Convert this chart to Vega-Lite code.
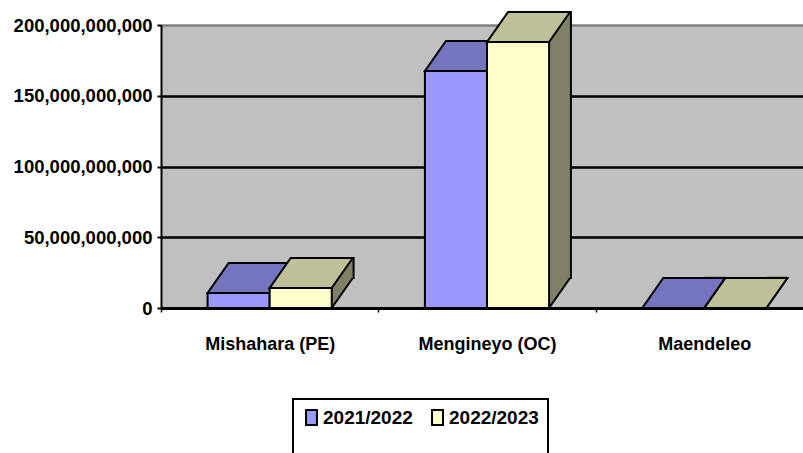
{
  "$schema": "https://vega.github.io/schema/vega-lite/v6.json",
  "autosize": {"type": "none"},
  "width": 642,
  "height": 283,
  "padding": {"left": 161, "top": 25, "right": 0, "bottom": 145},
  "background": "white",
  "config": {
    "view": {"stroke": null, "fill": "#C0C0C0"},
    "font": "Liberation Sans",
    "legend": {"strokeWidth": 2}
  },
  "data": {
    "values": [
      {"category": "Mishahara (PE)", "series": "2021/2022", "value": 10600000000},
      {"category": "Mishahara (PE)", "series": "2022/2023", "value": 14100000000},
      {"category": "Mengineyo (OC)", "series": "2021/2022", "value": 167500000000},
      {"category": "Mengineyo (OC)", "series": "2022/2023", "value": 188000000000},
      {"category": "Maendeleo", "series": "2021/2022", "value": 0},
      {"category": "Maendeleo", "series": "2022/2023", "value": 0}
    ]
  },
  "resolve": {"scale": {"xOffset": "independent"}},
  "encoding": {
    "x": {
      "field": "category",
      "type": "nominal",
      "sort": ["Mishahara (PE)", "Mengineyo (OC)", "Maendeleo"],
      "scale": {"type": "band", "range": [0, 652], "paddingInner": 0, "paddingOuter": 0},
      "axis": {
        "title": null,
        "labelAngle": 0,
        "labelFont": "Liberation Sans",
        "labelFontSize": 18,
        "labelFontWeight": "bold",
        "labelColor": "black",
        "labelBaseline": "alphabetic",
        "labelPadding": 37,
        "tickBand": "extent",
        "tickSize": 4,
        "tickColor": "black",
        "tickWidth": 1.5,
        "domainColor": "black",
        "domainWidth": 3,
        "zindex": 1
      }
    },
    "xOffset": {
      "field": "series",
      "type": "nominal",
      "scale": {"type": "band", "domain": ["2021/2022", "2022/2023"], "paddingInner": 0, "paddingOuter": 0.75}
    },
    "y": {
      "field": "value",
      "type": "quantitative",
      "scale": {"domain": [0, 200000000000], "nice": false},
      "axis": {
        "title": null,
        "values": [0, 50000000000, 100000000000, 150000000000, 200000000000],
        "format": ",d",
        "labelFont": "Liberation Sans",
        "labelFontSize": 18.5,
        "labelFontWeight": "bold",
        "labelColor": "black",
        "labelPadding": 5,
        "tickSize": 4,
        "tickColor": "black",
        "tickWidth": 2,
        "domainColor": "black",
        "domainWidth": 2,
        "grid": true,
        "gridColor": {"condition": {"test": "datum.value >= 200000000000", "value": "#808080"}, "value": "black"},
        "gridWidth": 2.5
      }
    }
  },
  "layer": [
    {
      "mark": {"type": "bar", "yOffset": -30, "y2Offset": -30, "fill": "#808066", "stroke": "black", "strokeWidth": 2},
      "encoding": {
        "xOffset": {
          "field": "series",
          "type": "nominal",
          "scale": {"type": "band", "domain": ["2021/2022", "2022/2023"], "paddingInner": 0.662, "paddingOuter": 1.081, "align": 0.81}
        },
        "y2": {"datum": 0}
      }
    },
    {
      "mark": {"type": "point", "shape": "M31,0 L31,-31.5 L52,-31.5 L52,-30 Z", "size": 4, "filled": true, "fill": "#808066", "strokeWidth": 0, "opacity": 1},
      "encoding": {"y": {"datum": 0, "type": "quantitative"}}
    },
    {
      "mark": {"type": "point", "shape": "M31,0 L52,-30", "size": 4, "filled": false, "stroke": "black", "strokeWidth": 2, "opacity": 1},
      "encoding": {"y": {"datum": 0, "type": "quantitative"}}
    },
    {
      "transform": [{"filter": "datum.series == '2021/2022'"}],
      "mark": {"type": "bar", "stroke": "black", "strokeWidth": 2},
      "encoding": {
        "fill": {
          "field": "series",
          "type": "nominal",
          "scale": {"domain": ["2021/2022", "2022/2023"], "range": ["#9999FF", "#FFFFCC"]},
          "legend": {
            "orient": "none",
            "legendX": 132,
            "legendY": 374,
            "direction": "horizontal",
            "title": "\u00a0\u00a0\u00a0\u00a0\u00a0\u00a0\u00a0\u00a0\u00a0\u00a0\u00a0\u00a0\u00a0\u00a0\u00a0\u00a0\u00a0\u00a0\u00a0\u00a0\u00a0\u00a0\u00a0\u00a0\u00a0\u00a0\u00a0\u00a0\u00a0\u00a0\u00a0\u00a0\u00a0\u00a0\u00a0\u00a0\u00a0\u00a0\u00a0",
            "titleOrient": "bottom",
            "titleFontSize": 22,
            "titleLimit": 400,
            "titlePadding": 0,
            "strokeColor": "black",
            "padding": 9,
            "labelFont": "Liberation Sans",
            "labelFontSize": 19,
            "labelFontWeight": "bold",
            "labelColor": "black",
            "labelOffset": 2,
            "columnPadding": 15,
            "symbolType": "M-0.73,-1 L0.73,-1 L0.73,1 L-0.73,1 Z",
            "symbolSize": 225,
            "symbolStrokeColor": "black",
            "symbolStrokeWidth": 2,
            "symbolOpacity": 1,
            "encode": {
              "symbols": {
                "update": {
                  "shape": {"value": "M-0.73,-1 L0.73,-1 L0.73,1 L-0.73,1 Z"},
                  "size": {"value": 225},
                  "stroke": {"value": "black"},
                  "strokeWidth": {"value": 2},
                  "opacity": {"value": 1}
                }
              }
            }
          }
        }
      }
    },
    {
      "transform": [{"filter": "datum.series == '2021/2022'"}],
      "mark": {"type": "point", "shape": "M-31,0 L31,0 L52,-30 L-10,-30 Z", "size": 4, "filled": true, "fill": "#7474BF", "stroke": "black", "strokeWidth": 2, "opacity": 1}
    },
    {
      "transform": [{"filter": "datum.series == '2022/2023'"}],
      "mark": {"type": "bar", "stroke": "black", "strokeWidth": 2},
      "encoding": {
        "fill": {"field": "series", "type": "nominal"}
      }
    },
    {
      "transform": [{"filter": "datum.series == '2022/2023'"}],
      "mark": {"type": "point", "shape": "M-31,0 L31,0 L52,-30 L-10,-30 Z", "size": 4, "filled": true, "fill": "#BFBF99", "stroke": "black", "strokeWidth": 2, "opacity": 1}
    }
  ]
}
